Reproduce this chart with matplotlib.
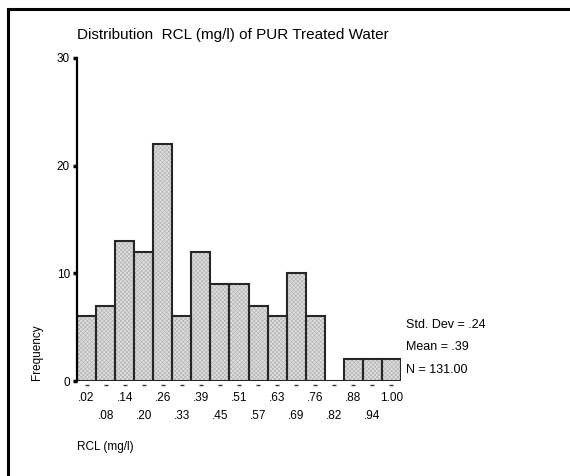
import matplotlib
matplotlib.use("Agg")
import matplotlib.pyplot as plt
from matplotlib.lines import Line2D
from matplotlib.transforms import offset_copy

plt.rcParams['font.family'] = ['Liberation Sans', 'DejaVu Sans']
plt.rcParams['hatch.linewidth'] = 0.5

# Histogram data
bin_labels = ['.02', '.08', '.14', '.20', '.26', '.33', '.39', '.45', '.51',
              '.57', '.63', '.69', '.76', '.82', '.88', '.94', '1.00']
counts = [6, 7, 13, 12, 22, 6, 12, 9, 9, 7, 6, 10, 6, 0, 2, 2, 2]
y_ticks = [0, 10, 20, 30]
stats_lines = ['Std. Dev = .24', 'Mean = .39', 'N = 131.00']

W, H = 570, 476
fig = plt.figure(figsize=(W / 100, H / 100), dpi=100)
ax = fig.add_axes([77 / W, 1 - 381 / H, (401 - 77) / W, (381 - 58) / H])

x = list(range(len(counts)))
# hatched fill first, then outlines on top
ax.bar(x, counts, width=1.0, color='#e0e0e0', edgecolor='#b4b4b4',
       hatch='xxxxxxxx', linewidth=0)
ax.bar(x, counts, width=1.0, fill=False, edgecolor='#262626', linewidth=1.5)

ax.set_xlim(-0.5, len(counts) - 0.5)
ax.set_ylim(0, 30)

for s in ['top', 'right', 'bottom']:
    ax.spines[s].set_visible(False)
ax.spines['left'].set_linewidth(1.6)

ax.set_yticks(y_ticks)
ax.set_yticklabels([str(v) for v in y_ticks])
ax.tick_params(axis='y', length=3, width=2.5, pad=2, labelsize=8.5)

# two staggered rows of bin labels, small dash marks under each bin
ax.set_xticks(x)
ax.set_xticklabels([lab if i % 2 == 0 else '\n' + lab for i, lab in enumerate(bin_labels)],
                   linespacing=1.6)
ax.tick_params(axis='x', length=0, pad=8, labelsize=8.5)
dash_tr = offset_copy(ax.get_xaxis_transform(), fig=fig, x=0, y=-4, units='dots')
ax.plot(x, [0] * len(x), linestyle='none', marker='_', markersize=3,
        markeredgewidth=1.0, color='#333333', transform=dash_tr, clip_on=False)

fig.text(77 / W, 1 - 35 / H, 'Distribution  RCL (mg/l) of PUR Treated Water',
         fontsize=11, va='center', ha='left')
fig.text(37 / W, 1 - 380 / H, 'Frequency', rotation=90, fontsize=8.5,
         va='bottom', ha='center')
fig.text(77 / W, 1 - 447 / H, 'RCL (mg/l)', fontsize=8.5, va='center', ha='left')

for i, line in enumerate(stats_lines):
    fig.text(406 / W, 1 - (325 + 22.5 * i) / H, line, fontsize=9,
             va='center', ha='left')

# frame lines (top and left only, rest is cropped)
fig.add_artist(Line2D([7.5 / W, 1], [1 - 8.5 / H, 1 - 8.5 / H], color='black', linewidth=2.2))
fig.add_artist(Line2D([8 / W, 8 / W], [0, 1 - 8.5 / H], color='black', linewidth=2.2))

fig.savefig('out.png', dpi=100)
